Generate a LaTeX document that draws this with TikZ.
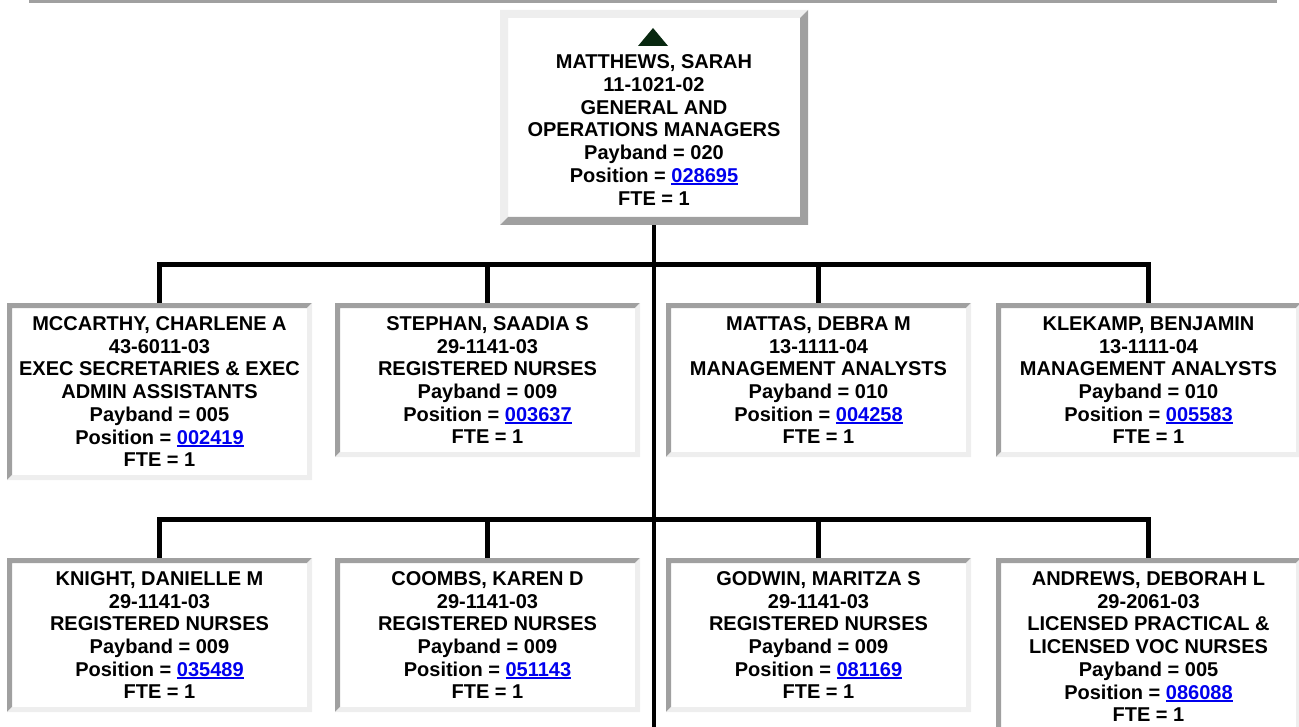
\documentclass[tikz,border=0pt]{standalone}
\usepackage{fontspec}
\setmainfont{Liberation Sans}
\definecolor{bdark}{RGB}{160,160,160}
\definecolor{blight}{RGB}{238,238,238}
\definecolor{lnkblue}{RGB}{0,0,238}
\definecolor{trigreen}{RGB}{8,40,16}
\newcommand\poslink[1]{{\color{lnkblue}\setbox0\hbox{#1}\rlap{\rule[-3pt]{\wd0}{2pt}}\box0}}
\newcommand\mybevel[3]{%
 \fill[#2] (path picture bounding box.north west) -- (path picture bounding box.north east)
   -- ([xshift=-#1,yshift=-#1]path picture bounding box.north east)
   -- ([xshift=#1,yshift=-#1]path picture bounding box.north west)
   -- ([xshift=#1,yshift=#1]path picture bounding box.south west)
   -- (path picture bounding box.south west) -- cycle;
 \fill[#3] (path picture bounding box.south east) -- (path picture bounding box.north east)
   -- ([xshift=-#1,yshift=-#1]path picture bounding box.north east)
   -- ([xshift=-#1,yshift=#1]path picture bounding box.south east)
   -- ([xshift=#1,yshift=#1]path picture bounding box.south west)
   -- (path picture bounding box.south west) -- cycle;}
\begin{document}
\begin{tikzpicture}[x=1pt,y=-1pt,
  txt/.style={align=center,font=\fontsize{20}{22.7}\selectfont\bfseries,text=black,inner sep=0pt},
  conn/.style={line width=4.6pt,draw=black,line join=miter},
  childbox/.style={txt,fill=white,minimum width=305pt,anchor=north,
     path picture={\mybevel{5pt}{bdark}{blight}}},
  tall/.style={minimum height=177pt},
  short/.style={minimum height=154pt},
  rootbox/.style={fill=white,inner sep=0pt,minimum width=308pt,minimum height=215pt,
     path picture={\mybevel{8pt}{blight}{bdark}}}]
\useasboundingbox (0,0) rectangle (1299,727);
\clip (0,0) rectangle (1299,727);
\fill[bdark] (29,0) rectangle (1277,3);
% root
\node[rootbox] (root) at (654,117.5) {};
\fill[trigreen] (653,28) -- (668,46) -- (638,46) -- cycle;
\node[txt] (roottext) at (654,130) {MATTHEWS, SARAH\\11-1021-02\\GENERAL AND\\OPERATIONS MANAGERS\\Payband = 020\\Position = \poslink{028695}\\FTE = 1};
% row 1
\node[childbox,tall] (k1) at (159.5,303) {MCCARTHY, CHARLENE A\\43-6011-03\\EXEC SECRETARIES \& EXEC\\ADMIN ASSISTANTS\\Payband = 005\\Position = \poslink{002419}\\FTE = 1};
\node[childbox,short] (k2) at (487.5,303) {STEPHAN, SAADIA S\\29-1141-03\\REGISTERED NURSES\\Payband = 009\\Position = \poslink{003637}\\FTE = 1};
\node[childbox,short] (k3) at (818.5,303) {MATTAS, DEBRA M\\13-1111-04\\MANAGEMENT ANALYSTS\\Payband = 010\\Position = \poslink{004258}\\FTE = 1};
\node[childbox,short] (k4) at (1148.5,303) {KLEKAMP, BENJAMIN\\13-1111-04\\MANAGEMENT ANALYSTS\\Payband = 010\\Position = \poslink{005583}\\FTE = 1};
% row 2
\node[childbox,short] (n1) at (159.5,558) {KNIGHT, DANIELLE M\\29-1141-03\\REGISTERED NURSES\\Payband = 009\\Position = \poslink{035489}\\FTE = 1};
\node[childbox,short] (n2) at (487.5,558) {COOMBS, KAREN D\\29-1141-03\\REGISTERED NURSES\\Payband = 009\\Position = \poslink{051143}\\FTE = 1};
\node[childbox,short] (n3) at (818.5,558) {GODWIN, MARITZA S\\29-1141-03\\REGISTERED NURSES\\Payband = 009\\Position = \poslink{081169}\\FTE = 1};
\node[childbox,tall] (n4) at (1148.5,558) {ANDREWS, DEBORAH L\\29-2061-03\\LICENSED PRACTICAL \&\\LICENSED VOC NURSES\\Payband = 005\\Position = \poslink{086088}\\FTE = 1};
% connectors
\coordinate (bot) at (654,727);
\coordinate (bar1) at (654,264.5);
\coordinate (bar2) at (654,519.5);
\draw[conn] (root.south) -- (bot);
\draw[conn] (k1.north) -- (k1.north |- bar1) -- (k4.north |- bar1) -- (k4.north);
\draw[conn] (k2.north) -- (k2.north |- bar1);
\draw[conn] (k3.north) -- (k3.north |- bar1);
\draw[conn] (n1.north) -- (n1.north |- bar2) -- (n4.north |- bar2) -- (n4.north);
\draw[conn] (n2.north) -- (n2.north |- bar2);
\draw[conn] (n3.north) -- (n3.north |- bar2);
\end{tikzpicture}
\end{document}
